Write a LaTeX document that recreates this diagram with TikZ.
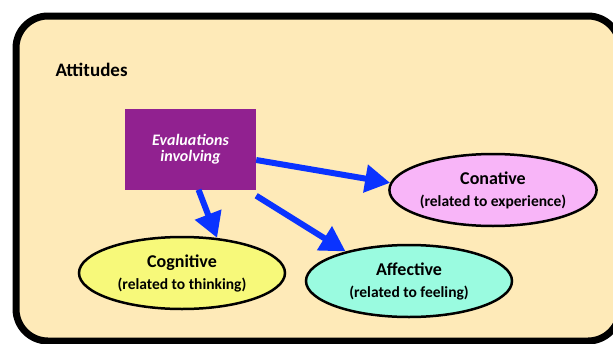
\documentclass[tikz,border=0pt]{standalone}
\usepackage{fontspec}
\setmainfont{Carlito}
\usepackage{xcolor}
\usetikzlibrary{arrows.meta, shapes.geometric}

\definecolor{cream}{HTML}{FEEAB8}
\definecolor{evalpurple}{HTML}{912190}
\definecolor{cogyellow}{HTML}{F7F97A}
\definecolor{affaqua}{HTML}{9AFBE0}
\definecolor{conpink}{HTML}{F8B5F8}
\definecolor{arrowblue}{HTML}{0A33FF}

\begin{document}
\begin{tikzpicture}[x=1pt, y=-1pt,
  oval/.style={ellipse, draw, line width=2.5pt, inner sep=0pt, minimum width=206pt,
    minimum height=72pt, align=center, font=\bfseries\fontsize{15.5}{22}\selectfont},
  cog/.style={oval, fill=cogyellow},
  aff/.style={oval, fill=affaqua},
  con/.style={oval, fill=conpink},
  link/.style={draw=arrowblue, line width=6pt, -{Triangle[length=25pt, width=27pt]}},
  heading/.style={font=\bfseries\fontsize{19}{22}\selectfont, anchor=west}
]
  \useasboundingbox (0,0) rectangle (613,343);
  \clip (0,0) rectangle (613,343);

  % Frame
  \draw[line width=7pt, fill=cream, rounded corners=32pt] (16,16) rectangle (620,341);
  \node[heading] (title) at (52,70) {Attitudes};

  % Evaluations box
  \node[fill=evalpurple, minimum width=131pt, minimum height=81pt, text=white, align=center,
    font=\bfseries\itshape\fontsize{16}{16}\selectfont] (eval) at (190.5,149) {Evaluations\\involving};

  % Components
  \node[cog] (cognitive) at (182,273) {{\fontsize{18}{22}\selectfont Cognitive}\\(related to thinking)};
  \node[aff] (affective) at (409,281) {{\fontsize{18}{22}\selectfont Affective}\\(related to feeling)};
  \node[con] (conative) at (493,190) {{\fontsize{18}{22}\selectfont Conative}\\(related to experience)};

  % Arrows
  \draw[link] ([xshift=8pt]eval.south) -- (cognitive.45);
  \draw[link] ([yshift=-6pt]eval.south east) -- (affective.155);
  \draw[link] ([yshift=-11pt]eval.east) -- (conative.176);

\end{tikzpicture}
\end{document}
